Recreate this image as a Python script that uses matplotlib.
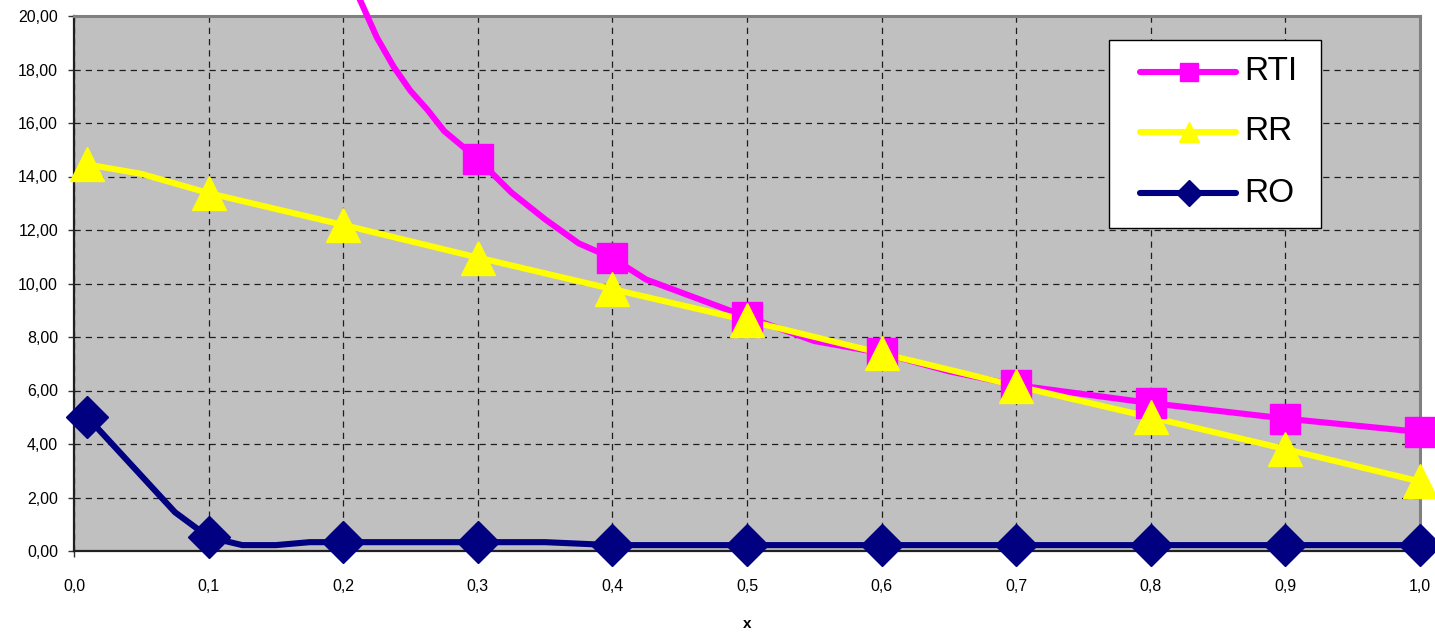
import matplotlib
matplotlib.use("Agg")
import matplotlib.pyplot as plt
import numpy as np
from matplotlib.patches import Rectangle
from matplotlib.lines import Line2D
from matplotlib.ticker import FuncFormatter, MultipleLocator

plt.rcParams['font.family'] = ['Liberation Sans', 'DejaVu Sans']

# Line data (curves are drawn through more points than have markers)
rti_x = [0.2, 0.2125, 0.225, 0.2375, 0.25, 0.2625, 0.275, 0.3, 0.325, 0.35, 0.375,
         0.4, 0.425, 0.5, 0.55, 0.6, 0.65, 0.7, 0.8, 0.9, 1.0]
rti_y = [21.9, 20.6, 19.2, 18.1, 17.2, 16.5, 15.7, 14.65, 13.4, 12.4, 11.5,
         10.95, 10.15, 8.75, 7.85, 7.40, 6.72, 6.20, 5.53, 4.95, 4.45]

rr_x = [0.01, 0.05, 0.1, 0.2, 0.3, 0.4, 0.5, 0.6, 0.7, 0.8, 0.9, 1.0]
rr_y = [14.45, 14.1, 13.38, 12.19, 10.97, 9.79, 8.62, 7.39, 6.17, 5.0, 3.81, 2.6]

ro_x = [0.01, 0.075, 0.1, 0.125, 0.15, 0.175, 0.2, 0.3, 0.35, 0.4, 0.5, 0.6,
        0.7, 0.8, 0.9, 1.0]
ro_y = [5.0, 1.45, 0.52, 0.22, 0.22, 0.33, 0.33, 0.33, 0.33, 0.22, 0.22, 0.22,
        0.22, 0.22, 0.22, 0.22]

# Marker points
mark_x = [0.01, 0.1, 0.2, 0.3, 0.4, 0.5, 0.6, 0.7, 0.8, 0.9, 1.0]
rti_mark = [np.nan, np.nan, np.nan, 14.65, 10.95, 8.75, 7.40, 6.20, 5.53, 4.95, 4.45]
rr_mark = [14.45, 13.38, 12.19, 10.97, 9.79, 8.62, 7.39, 6.17, 5.0, 3.81, 2.6]
ro_mark = [5.0, 0.52, 0.33, 0.33, 0.22, 0.22, 0.22, 0.22, 0.22, 0.22, 0.22]

x_ticks = [0.0, 0.1, 0.2, 0.3, 0.4, 0.5, 0.6, 0.7, 0.8, 0.9, 1.0]
names = ['RTI', 'RR', 'RO']

W, H = 1435, 635
fig = plt.figure(figsize=(W / 100, H / 100), dpi=100)
ax = fig.add_axes([74 / W, 84 / H, 1346 / W, 535 / H])
ax.set_facecolor('#C0C0C0')

series = [
    (rti_x, rti_y, rti_mark, '#FF00FF', 's', 22, 13),
    (rr_x, rr_y, rr_mark, '#FFFF00', '^', 25, 15),
    (ro_x, ro_y, ro_mark, '#000080', 'D', 21, 13),
]

for lx, ly, my, color, marker, ms, lms in series:
    ax.plot(lx, ly, color=color, lw=4.4, clip_on=False, zorder=3,
            solid_joinstyle='round', solid_capstyle='round')
    ax.plot(mark_x, my, linestyle='none', marker=marker, ms=ms, color=color,
            mec=color, clip_on=False, zorder=4)

ax.set_xlim(0, 1.0)
ax.set_ylim(0, 20)
ax.set_xticks(x_ticks)
ax.yaxis.set_major_locator(MultipleLocator(2))
ax.xaxis.set_major_formatter(FuncFormatter(lambda v, p: f'{v:.1f}'.replace('.', ',')))
ax.yaxis.set_major_formatter(FuncFormatter(lambda v, p: f'{v:.2f}'.replace('.', ',')))

ax.grid(True, color='black', lw=0.9, linestyle=(0, (5, 4)), alpha=0.85)
ax.set_axisbelow(True)

ax.tick_params(axis='both', direction='out', length=4.5, width=1, color='#333333',
               labelsize=11.5)
ax.tick_params(axis='y', pad=7)
ax.tick_params(axis='x', pad=16)

for side in ['left', 'bottom']:
    ax.spines[side].set_color('#202020')
    ax.spines[side].set_linewidth(1.6)
for side in ['top', 'right']:
    ax.spines[side].set_color('#808080')
    ax.spines[side].set_linewidth(2.2)

ax.set_xlabel('x', fontsize=11, fontweight='bold', labelpad=16)


# legend box drawn in pixel positions of the figure
def fx(px):
    return px / W


def fy(py):
    return 1 - py / H


fig.add_artist(Rectangle((fx(1109), fy(228)), fx(1321) - fx(1109), fy(40) - fy(228),
                         transform=fig.transFigure, facecolor='white',
                         edgecolor='black', lw=1, zorder=10))
row_y = [72, 132, 193]
for (lx, ly, my, color, marker, ms, lms), name, ry in zip(series, names, row_y):
    fig.add_artist(Line2D([fx(1140), fx(1236)], [fy(ry), fy(ry)],
                          transform=fig.transFigure, color=color, lw=4.4,
                          solid_capstyle='round', zorder=11))
    fig.add_artist(Line2D([fx(1189)], [fy(ry)], transform=fig.transFigure,
                          marker=marker, ms=lms, color=color, mec=color, zorder=12))
    fig.text(fx(1244), fy(ry), name, fontsize=24, va='center', ha='left', zorder=13)

fig.savefig('out.png', dpi=100)
